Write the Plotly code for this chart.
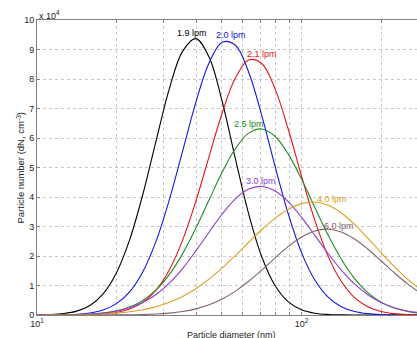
import numpy as np
import plotly.graph_objects as go

# Particle diameter grid (nm)
diameter_nm = [10, 11.22, 12.59, 14.13, 15.85, 17.78, 19.95, 22.39, 25.12, 28.18,
               31.62, 35.48, 39.81, 44.67, 50.12, 56.23, 63.10, 70.79, 79.43, 89.13,
               100, 112.2, 125.9, 141.3, 158.5, 177.8, 199.5, 223.9, 251.2, 281.8]

# Particle number dN (x 10^4 cm^-3) for each flow rate
n_19 = [0.005, 0.016, 0.048, 0.131, 0.323, 0.716, 1.424, 2.546, 4.09, 5.905,
        7.664, 8.938, 9.368, 8.748, 7.229, 5.287, 3.421, 1.958, 0.992, 0.445,
        0.177, 0.062, 0.019, 0.005, 0.001, 0.0, 0.0, 0.0, 0.0, 0.0]
n_20 = [0.001, 0.003, 0.009, 0.026, 0.070, 0.172, 0.385, 0.787, 1.469, 2.504,
        3.901, 5.544, 7.200, 8.539, 9.249, 9.143, 8.228, 6.741, 5.026, 3.410,
        2.107, 1.184, 0.606, 0.282, 0.120, 0.046, 0.016, 0.005, 0.002, 0.0]
n_21 = [0.0, 0.0, 0.001, 0.004, 0.012, 0.033, 0.085, 0.200, 0.429, 0.845,
        1.528, 2.531, 3.848, 5.363, 6.857, 8.041, 8.647, 8.518, 7.658, 6.279,
        4.698, 3.207, 1.996, 1.134, 0.588, 0.278, 0.120, 0.047, 0.017, 0.006]
n_25 = [0.001, 0.002, 0.005, 0.012, 0.029, 0.065, 0.137, 0.268, 0.494, 0.849,
        1.371, 2.072, 2.935, 3.896, 4.844, 5.645, 6.164, 6.306, 6.050, 5.446,
        4.599, 3.644, 2.709, 1.889, 1.236, 0.759, 0.437, 0.236, 0.120, 0.057]
n_30 = [0.001, 0.003, 0.006, 0.015, 0.032, 0.067, 0.131, 0.244, 0.424, 0.697,
        1.080, 1.575, 2.166, 2.806, 3.424, 3.938, 4.267, 4.357, 4.203, 3.834,
        3.308, 2.701, 2.085, 1.523, 1.052, 0.687, 0.425, 0.248, 0.137, 0.072]
n_40 = [0.001, 0.003, 0.005, 0.010, 0.020, 0.036, 0.064, 0.109, 0.178, 0.282,
        0.429, 0.630, 0.891, 1.215, 1.596, 2.021, 2.466, 2.899, 3.285, 3.588,
        3.776, 3.829, 3.723, 3.460, 3.073, 2.608, 2.116, 1.641, 1.216, 0.861]
n_60 = [0.0, 0.0, 0.0, 0.0, 0.001, 0.001, 0.003, 0.007, 0.016, 0.033,
        0.064, 0.118, 0.208, 0.345, 0.543, 0.809, 1.143, 1.528, 1.937, 2.325,
        2.645, 2.850, 2.909, 2.813, 2.577, 2.237, 1.839, 1.432, 1.057, 0.739]

series_names = ["1.9 lpm", "2.0 lpm", "2.1 lpm", "2.5 lpm", "3.0 lpm", "4.0 lpm", "6.0 lpm"]
series_values = [n_19, n_20, n_21, n_25, n_30, n_40, n_60]
series_colors = ["#000000", "#1414e6", "#e61414", "#228b22", "#8c3cd2", "#d9a020", "#80626f"]

# Curve label anchor positions (diameter nm, dN)
label_d = [38.5, 54.3, 70.9, 63.1, 70.3, 130.3, 138.2]
label_y = [9.57, 9.48, 8.86, 6.48, 4.55, 3.94, 3.02]

# Axis ticks
x_tickvals = [10, 20, 30, 40, 50, 60, 70, 80, 90, 100, 200, 300]
x_ticktext = ["10<sup>1</sup>", "", "", "", "", "", "", "", "", "10<sup>2</sup>", "", ""]
y_tickvals = list(range(0, 11))

FONT = "Liberation Sans, Arial, sans-serif"

fig = go.Figure()
for name, vals, col in zip(series_names, series_values, series_colors):
    fig.add_trace(go.Scatter(x=diameter_nm, y=vals, mode="lines", name=name,
                             line=dict(color=col, width=1.1, shape="spline"),
                             showlegend=False, hoverinfo="skip"))

for name, d, yv, col in zip(series_names, label_d, label_y, series_colors):
    fig.add_annotation(x=np.log10(d), y=yv, xref="x", yref="y", text=name,
                       showarrow=False, font=dict(family=FONT, size=9, color=col),
                       xanchor="center", yanchor="middle")

fig.add_annotation(x=0, y=1, xref="paper", yref="paper", text="x 10<sup>4</sup>",
                   showarrow=False, xanchor="left", yanchor="bottom", yshift=-3,
                   font=dict(family=FONT, size=9, color="#222222"))
fig.add_annotation(x=0, y=0.5, xref="paper", yref="paper",
                   text="Particle number (dN, cm<sup>-3</sup>)", textangle=-90,
                   showarrow=False, xanchor="center", yanchor="middle", xshift=-17,
                   font=dict(family=FONT, size=9.5, color="#222222"))
fig.add_annotation(x=0.513, y=0, xref="paper", yref="paper",
                   text="Particle diameter (nm)", showarrow=False,
                   xanchor="center", yanchor="top", yshift=-13,
                   font=dict(family=FONT, size=9, color="#222222"))

fig.update_xaxes(type="log", range=[1, 2.436], tickmode="array",
                 tickvals=x_tickvals, ticktext=x_ticktext, automargin=False,
                 showgrid=True, gridcolor="#c8c8c8", griddash="dot", gridwidth=1,
                 showline=True, linecolor="#808080", linewidth=1, mirror="ticks",
                 ticks="inside", ticklen=3, tickcolor="#808080",
                 tickfont=dict(family=FONT, size=9, color="#222222"),
                 zeroline=False)
fig.update_yaxes(range=[0, 10], tickmode="array", tickvals=y_tickvals,
                 automargin=False,
                 showgrid=True, gridcolor="#c8c8c8", griddash="dot", gridwidth=1,
                 showline=True, linecolor="#808080", linewidth=1, mirror=False,
                 ticks="inside", ticklen=3, tickcolor="#808080",
                 tickfont=dict(family=FONT, size=9, color="#222222"),
                 zeroline=False)

fig.update_layout(width=417, height=338, margin=dict(l=37, r=0, t=20, b=23),
                  plot_bgcolor="white", paper_bgcolor="white", hovermode=False)

fig.write_html("out.html", config={"displayModeBar": False, "staticPlot": True},
               post_script="document.body.style.margin='0px';document.body.style.padding='0px';")
